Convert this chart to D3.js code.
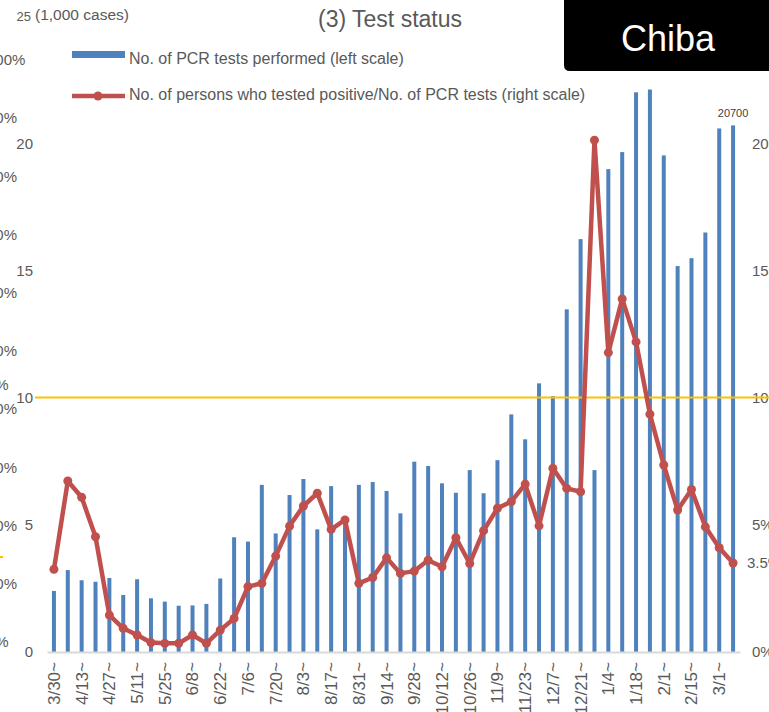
<!DOCTYPE html>
<html>
<head>
<meta charset="utf-8">
<script src="https://cdn.jsdelivr.net/npm/d3@7"></script>
<style>
  body { margin: 0; background: #fff; }
  svg { display: block; overflow: hidden; font-family: "Liberation Sans", Arial, sans-serif; }
</style>
</head>
<body>
<div id="vis"></div>
<script>
// Weekly periods (week starting date)
const weeks = ["3/30","4/6","4/13","4/20","4/27","5/4","5/11","5/18","5/25","6/1",
  "6/8","6/15","6/22","6/29","7/6","7/13","7/20","7/27","8/3","8/10",
  "8/17","8/24","8/31","9/7","9/14","9/21","9/28","10/5","10/12","10/19",
  "10/26","11/2","11/9","11/16","11/23","11/30","12/7","12/14","12/21","12/28",
  "1/4","1/11","1/18","1/25","2/1","2/8","2/15","2/22","3/1","3/8"]

// No. of PCR tests (1,000 cases) - left scale
const tests = [2.40, 3.22, 2.82, 2.76, 2.91, 2.24, 2.86, 2.11, 1.98, 1.82,
  1.83, 1.89, 2.89, 4.51, 4.34, 6.57, 4.66, 6.17, 6.80, 4.82,
  6.52, 5.20, 6.57, 6.68, 6.33, 5.45, 7.48, 7.31, 6.63, 6.26,
  7.15, 6.24, 7.54, 9.34, 8.36, 10.56, 10.06, 13.47, 16.23, 7.15,
  18.98, 19.65, 22.00, 22.11, 19.52, 15.17, 15.48, 16.49, 20.58, 20.70]

// Positive rate (%) - right scale
const posRate = [3.25, 6.72, 6.08, 4.53, 1.45, 0.93, 0.67, 0.37, 0.34, 0.34,
  0.67, 0.34, 0.86, 1.32, 2.57, 2.70, 3.77, 4.95, 5.74, 6.24,
  4.82, 5.19, 2.70, 2.93, 3.70, 3.09, 3.18, 3.61, 3.35, 4.49,
  3.48, 4.77, 5.65, 5.91, 6.60, 4.96, 7.22, 6.43, 6.30, 20.12,
  11.77, 13.88, 12.19, 9.35, 7.35, 5.58, 6.39, 4.92, 4.10, 3.50]

const leftTicks = [0, 5, 10, 15, 20, 25]
const rightTicks = [0, 5, 10, 15, 20]
const threshold = 10
// leftover axis labels of a neighbouring chart showing at the left edge
const ghostLabels = ["100%","90%","80%","70%","60%","50%","40%","30%","20%","10%","0%"]

const W = 769, H = 712
const grey = "#595959"

const svg = d3.select("#vis").append("svg")
    .attr("width", W)
    .attr("height", H)

const x = d3.scaleBand()
    .domain(weeks)
    .range([47, 740])

const yL = d3.scaleLinear().domain([0, 25]).range([652, 16])
const yR = d3.scaleLinear().domain([0, 25]).range([652, 16])

// ghost labels
const ghostY = d3.scaleLinear().domain([0, 10]).range([60, 642])
svg.append("g").selectAll("text")
    .data(ghostLabels)
    .enter().append("text")
    .attr("x", -13)
    .attr("y", (d, i) => ghostY(i))
    .attr("dy", "0.35em")
    .attr("font-size", 15)
    .attr("fill", grey)
    .text(d => d)
svg.append("text").attr("x", -13).attr("y", 385).attr("dy", "0.35em")
    .attr("font-size", 15).attr("fill", grey).text("0%")
svg.append("line").attr("x1", 0).attr("x2", 3).attr("y1", 557).attr("y2", 557)
    .attr("stroke", "#FFC000").attr("stroke-width", 2)

// left axis
const gL = svg.append("g")
    .attr("transform", "translate(33,0)")
    .call(d3.axisLeft(yL).tickValues(leftTicks).tickSize(0).tickPadding(0))
gL.select(".domain").remove()
gL.selectAll("text")
    .attr("font-size", d => d === 25 ? 13 : 15)
    .attr("x", d => d === 25 ? -2 : 0)
    .attr("fill", grey)
    .attr("font-family", "inherit")

svg.append("text").attr("x", 35).attr("y", 20)
    .attr("font-size", 15.5).attr("fill", grey).text("(1,000 cases)")

// right axis
const gR = svg.append("g")
    .attr("transform", "translate(745,0)")
    .call(d3.axisRight(yR).tickValues(rightTicks).tickSize(0).tickPadding(7).tickFormat(d => d + "%"))
gR.select(".domain").remove()
gR.selectAll("text").attr("font-size", 15).attr("fill", grey).attr("font-family", "inherit")

// bars
const barW = 4
svg.append("g").selectAll("rect")
    .data(tests)
    .enter().append("rect")
    .attr("x", (d, i) => x(weeks[i]) + x.bandwidth() / 2 - barW / 2)
    .attr("y", d => yL(d))
    .attr("width", barW)
    .attr("height", d => yL(0) - yL(d))
    .attr("fill", "#4F81BD")

// x axis
const gX = svg.append("g")
    .attr("transform", "translate(0,652)")
    .call(d3.axisBottom(x).tickSize(0).tickFormat((d, i) => i % 2 === 0 && i < 49 ? d + "~" : ""))
gX.select(".domain").attr("stroke", "#D9D9D9").attr("stroke-width", 2)
gX.selectAll("text")
    .attr("font-size", 17)
    .attr("fill", grey)
    .attr("font-family", "inherit")
    .attr("text-anchor", "end")
    .attr("transform", "rotate(-90)")
    .attr("x", -10)
    .attr("y", 0)
    .attr("dy", "0.35em")

// last bar label
svg.append("text")
    .attr("x", x(weeks[49]) + x.bandwidth() / 2)
    .attr("y", yL(tests[49]) - 8)
    .attr("text-anchor", "middle")
    .attr("font-size", 11)
    .attr("fill", "#404040")
    .text("20700")

// threshold line
svg.append("line")
    .attr("x1", 35).attr("x2", W)
    .attr("y1", yL(threshold)).attr("y2", yL(threshold))
    .attr("stroke", "#FFC000").attr("stroke-width", 2)

// positive rate line
const line = d3.line()
    .x((d, i) => x(weeks[i]) + x.bandwidth() / 2)
    .y(d => yR(d))

svg.append("path")
    .datum(posRate)
    .attr("d", line)
    .attr("fill", "none")
    .attr("stroke", "#C0504D")
    .attr("stroke-width", 4.5)
    .attr("stroke-linejoin", "round")

svg.append("g").selectAll("circle")
    .data(posRate)
    .enter().append("circle")
    .attr("cx", (d, i) => x(weeks[i]) + x.bandwidth() / 2)
    .attr("cy", d => yR(d))
    .attr("r", 4.5)
    .attr("fill", "#C0504D")

svg.append("text")
    .attr("x", 747)
    .attr("y", yR(posRate[49]))
    .attr("dy", "0.35em")
    .attr("font-size", 15)
    .attr("fill", grey)
    .text("3.5%")

// title
svg.append("text")
    .attr("x", 390).attr("y", 27)
    .attr("text-anchor", "middle")
    .attr("font-size", 23)
    .attr("fill", grey)
    .text("(3) Test status")

// legend
const lg = svg.append("g")
lg.append("rect").attr("x", 72).attr("y", 51).attr("width", 53).attr("height", 7).attr("fill", "#4F81BD")
lg.append("text").attr("x", 129).attr("y", 58).attr("dy", "0.35em")
    .attr("font-size", 16).attr("fill", grey).text("No. of PCR tests performed (left scale)")
lg.append("line").attr("x1", 72).attr("x2", 125).attr("y1", 96).attr("y2", 96)
    .attr("stroke", "#C0504D").attr("stroke-width", 4.5)
lg.append("circle").attr("cx", 98).attr("cy", 96).attr("r", 4.5).attr("fill", "#C0504D")
lg.append("text").attr("x", 129).attr("y", 94).attr("dy", "0.35em")
    .attr("font-size", 16).attr("fill", grey).text("No. of persons who tested positive/No. of PCR tests (right scale)")

// prefecture box
svg.append("path")
    .attr("d", "M564,0 H769 V71 H570 Q564,71 564,65 Z")
    .attr("fill", "#000")
svg.append("text")
    .attr("x", 668).attr("y", 38)
    .attr("dy", "0.35em")
    .attr("text-anchor", "middle")
    .attr("font-size", 36)
    .attr("fill", "#fff")
    .text("Chiba")
</script>
</body>
</html>
